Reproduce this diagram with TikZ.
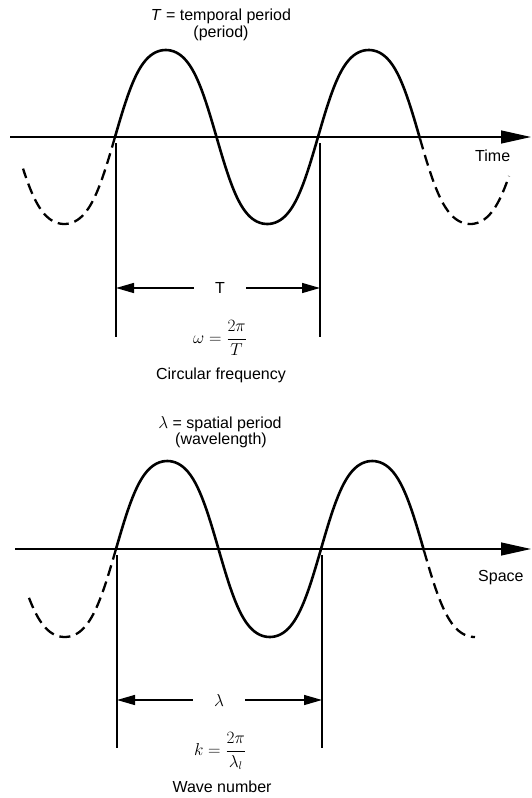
\documentclass[tikz,border=0pt]{standalone}
\usepackage{amsmath}
\usepackage{fontspec}
\setmainfont{Liberation Sans}
\usepackage{tikz}
\usetikzlibrary{arrows.meta,positioning,calc}

\begin{document}
\begin{tikzpicture}[x=1pt,y=-1pt,
          wave/.style={line width=2.6pt, line join=round},
          dashwave/.style={line width=2.3pt, dash pattern=on 11pt off 6pt},
          axisline/.style={line width=1.3pt, -{Triangle[length=30pt,width=13pt]}},
          guide/.style={line width=1.6pt},
          dimline/.style={line width=1.4pt, -{Triangle[length=18pt,width=10pt]}},
          lbl/.style={font=\fontsize{16}{19}\selectfont, inner sep=0pt},
          gaplbl/.style={lbl, minimum width=52pt},
          >=Stealth,
          declare function={tw(\t)=sin(\t+8*sin(2*\t));}
        ]
          \useasboundingbox (0,0) rectangle (531,798);
          % time panel
          \node[lbl] (ttitle) at (221,16) {\textit{T} = temporal period};
          \node[lbl] (tsub) at (221,33) {(period)};
          \coordinate (taxisL) at (10,137);
          \coordinate (taxisR) at (531,137);
          \draw[axisline] (taxisL) -- (taxisR);
          \node[lbl, anchor=west] (ttime) at (475,156) {Time};
          \draw[wave] plot[domain=115:420, samples=121, smooth] (\x, {137-87*tw((\x-115)/203*360)});
          \draw[dashwave] plot[domain=115:23, samples=40, smooth] (\x, {137-87*tw((\x-115)/203*360)});
          \draw[dashwave] plot[domain=420:509, samples=40, smooth] (\x, {137-87*tw((\x-115)/203*360)});
          \coordinate (tv1top) at (116,143);
          \coordinate (tv1bot) at (116,337);
          \coordinate (tv2top) at (320,143);
          \coordinate (tv2bot) at (320,337);
          \draw[guide] (tv1top) -- (tv1bot);
          \draw[guide] (tv2top) -- (tv2bot);
          \node[gaplbl] (tlabel) at (220,288) {T};
          \coordinate (tdimL) at (116,288);
          \coordinate (tdimR) at (320,288);
          \draw[dimline] (tlabel) -- (tdimL);
          \draw[dimline] (tlabel) -- (tdimR);
          \node[lbl] (tomega) at (220,338) {$\omega = \dfrac{2\pi}{T}$};
          \node[lbl] (tcirc) at (221,375) {Circular frequency};
          % space panel
          \node[lbl] (stitle) at (220,424) {$\lambda$ = spatial period};
          \node[lbl] (ssub) at (221,440) {(wavelength)};
          \coordinate (saxisL) at (15,549);
          \coordinate (saxisR) at (531,549);
          \draw[axisline] (saxisL) -- (saxisR);
          \node[lbl, anchor=west] (sspace) at (478,578) {Space};
          \draw[wave] plot[domain=116:424, samples=121, smooth] (\x, {549-88*tw((\x-116)/205*360)});
          \draw[dashwave] plot[domain=116:27, samples=40, smooth] (\x, {549-88*tw((\x-116)/205*360)});
          \draw[dashwave] plot[domain=424:475, samples=30, smooth] (\x, {549-88*tw((\x-116)/205*360)});
          \coordinate (sv1top) at (117,555);
          \coordinate (sv1bot) at (117,748);
          \coordinate (sv2top) at (322,555);
          \coordinate (sv2bot) at (322,748);
          \draw[guide] (sv1top) -- (sv1bot);
          \draw[guide] (sv2top) -- (sv2bot);
          \node[gaplbl] (slabel) at (219,700) {$\lambda$};
          \coordinate (sdimL) at (117,700);
          \coordinate (sdimR) at (322,700);
          \draw[dimline] (slabel) -- (sdimL);
          \draw[dimline] (slabel) -- (sdimR);
          \node[lbl] (sk) at (220,751) {$k = \dfrac{2\pi}{\lambda_{l}}$};
          \node[lbl] (swave) at (222,787) {Wave number};
        \end{tikzpicture}
\end{document}
